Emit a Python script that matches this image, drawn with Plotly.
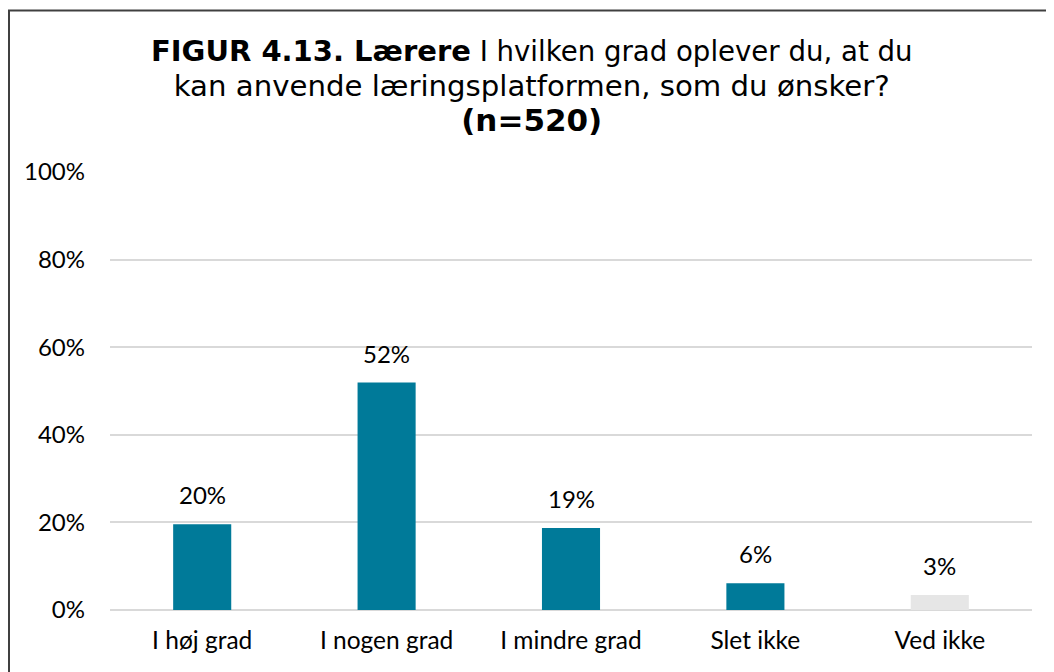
import plotly.graph_objects as go

categories = ["I høj grad", "I nogen grad", "I mindre grad", "Slet ikke", "Ved ikke"]
values = [0.196, 0.519, 0.187, 0.061, 0.034]
labels = ["20%", "52%", "19%", "6%", "3%"]
bar_colors = ["#007A99", "#007A99", "#007A99", "#007A99", "#E6E6E6"]
y_ticks = [0, 0.2, 0.4, 0.6, 0.8, 1.0]
y_ticklabels = ["0%", "20%", "40%", "60%", "80%", "100%"]

OFF = 8  # page body margin
W, H = 1054, 672
L, R, T, B = 110 - OFF, 22 + OFF, 170.7 - OFF, 62 + OFF
PW, PH = W - L - R, H - T - B

def px(x):  # screenshot x -> paper
    return (x - OFF - L) / PW

def py(y):  # screenshot y -> paper
    return (H - B - (y - OFF)) / PH

fig = go.Figure()
fig.add_trace(go.Bar(
    x=categories, y=values,
    marker=dict(color=bar_colors, line=dict(width=0)),
    width=0.315,
    hoverinfo="skip",
))

for c, v, t in zip(categories, values, labels):
    fig.add_annotation(x=c, y=v, xref="x", yref="y", text=t, showarrow=False,
                       yanchor="bottom", yshift=13,
                       font=dict(family="Lato", size=24, color="#000000"))

title_text = (
    '<span style="font-size:29px"><b>FIGUR 4.13. Lærere</b></span>'
    '<span style="font-size:27.6px"> I hvilken grad oplever du, at du</span><br>'
    '<span style="font-size:29.2px">kan anvende læringsplatformen, som du ønsker?</span><br>'
    '<span style="font-size:31px"><b>(n=520)</b></span>'
)
fig.add_annotation(x=px(532), y=py(86), xref="paper", yref="paper", showarrow=False,
                   text=title_text, align="center",
                   font=dict(family="DejaVu Sans", size=27, color="#000000"),
                   xanchor="center", yanchor="middle")

fig.add_shape(type="rect", xref="paper", yref="paper",
              x0=px(9), x1=px(1090), y0=py(720), y1=py(10),
              line=dict(color="#404040", width=2), fillcolor="rgba(0,0,0,0)", layer="above")

fig.update_layout(
    width=W, height=H,
    margin=dict(l=L, r=R, t=T, b=B, pad=0),
    paper_bgcolor="white", plot_bgcolor="white",
    showlegend=False,
    bargap=0.685,
    xaxis=dict(showgrid=False, showline=False, ticks="", zeroline=False,
               tickfont=dict(family="Lato", size=24.5, color="#000000"),
               ticklabelstandoff=13),
    yaxis=dict(range=[0, 1.002], tickvals=y_ticks, ticktext=y_ticklabels,
               showgrid=True, gridcolor="#D9D9D9", gridwidth=1.5,
               zeroline=True, zerolinecolor="#D9D9D9", zerolinewidth=1.5,
               showline=False, ticks="",
               tickfont=dict(family="Lato", size=24, color="#000000"),
               ticklabelstandoff=24),
)

fig.write_html("out.html")
